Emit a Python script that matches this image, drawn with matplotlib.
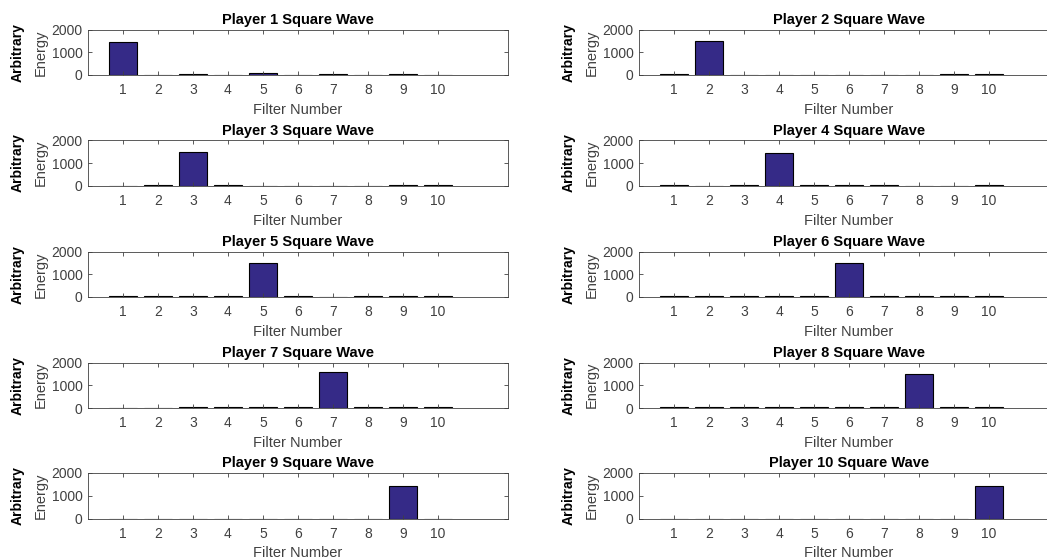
import numpy as np
import matplotlib
matplotlib.use('Agg')
import matplotlib.pyplot as plt

plt.rcParams['font.family'] = ['Liberation Sans', 'DejaVu Sans']

filters = np.arange(1, 11)
p1  = [1470,    0,   40,    0,   70,    0,   40,    0,   40,    0]
p2  = [  40, 1480,    0,    0,    0,    0,    0,    0,   40,   40]
p3  = [   0,   30, 1490,   40,    0,    0,    0,    0,   30,   30]
p4  = [  40,    0,   40, 1440,   40,   40,   40,    0,    0,   40]
p5  = [  40,   40,   40,   40, 1500,   40,    0,   40,   40,   40]
p6  = [  40,   40,   40,   40,   40, 1500,   40,   40,   40,   40]
p7  = [   0,    0,   40,   40,   40,   40, 1570,   40,   40,   40]
p8  = [  40,   40,   40,   40,   40,   40,   40, 1500,   40,   40]
p9  = [   0,    0,    0,    0,    0,    0,    0,    0, 1450,    0]
p10 = [   0,    0,    0,    0,    0,    0,    0,    0,    0, 1450]
players = [p1, p2, p3, p4, p5, p6, p7, p8, p9, p10]

W, H = 1047, 560
fig01 = plt.figure(figsize=(W/100, H/100), dpi=100)

tops  = [29.5, 140.3, 251.5, 362.5, 473.0]
lefts = [88, 639]
axw, axh = 420, 45.5
gray = '#404040'

for k1 in range(10):
    row, col = k1 // 2, k1 % 2
    x0 = lefts[col]
    y0 = tops[row] + axh
    axs01 = fig01.add_axes([x0/W, 1 - y0/H, axw/W, axh/H])

    axs01.bar(filters, players[k1], width=0.8, color='#352A87',
              edgecolor='black', linewidth=0.8)
    axs01.set_xlim(0, 12)
    axs01.set_ylim(0, 2000)
    axs01.set_xticks(filters)
    axs01.set_yticks([0, 1000, 2000])
    axs01.tick_params(direction='in', length=3, width=0.6, colors=gray,
                      labelsize=10, top=True, right=True)
    axs01.tick_params(axis='x', pad=6)
    axs01.tick_params(axis='y', pad=4)
    for sp in axs01.spines.values():
        sp.set_color(gray)
        sp.set_linewidth(0.6)

    axs01.set_title('Player %d Square Wave' % (k1 + 1), fontsize=10.5,
                    fontweight='bold', pad=4)
    axs01.set_xlabel('Filter Number', fontsize=10.5, color=gray, labelpad=4)
    axs01.annotate('Arbitrary', xy=(0, 0.5), xycoords='axes fraction',
                   xytext=(-70, 0), textcoords='offset pixels', rotation=90,
                   ha='center', va='center', fontsize=10, fontweight='bold')
    axs01.annotate('Energy', xy=(0, 0.5), xycoords='axes fraction',
                   xytext=(-47, 0), textcoords='offset pixels', rotation=90,
                   ha='center', va='center', fontsize=10.5, color=gray)

plt.savefig('out.png', dpi=100)
plt.close()
